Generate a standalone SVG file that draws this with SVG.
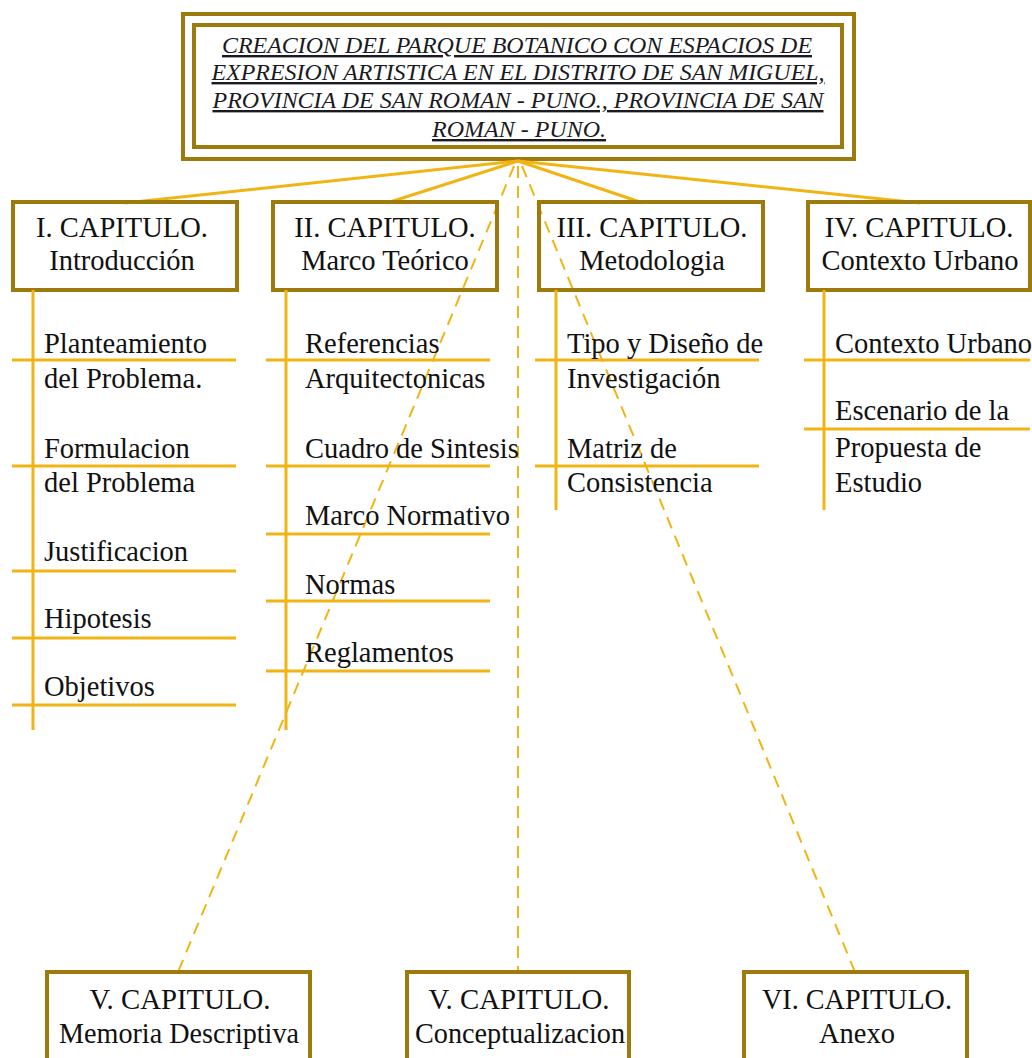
<svg xmlns="http://www.w3.org/2000/svg" width="1032" height="1058" viewBox="0 0 1032 1058">
<style>
.box{fill:none;stroke:#9c7a0c;stroke-width:4}
.tb{fill:none;stroke:#9c7a0c;stroke-width:4}
.t{font-family:"Liberation Serif","Times New Roman",serif;font-size:28.5px;fill:#111}
.c{text-anchor:middle}
.title{font-family:"Liberation Serif","Times New Roman",serif;font-size:24px;font-style:italic;fill:#1a1a22;text-anchor:middle;text-decoration:underline}
.sol{stroke:#f0b414;stroke-width:3;fill:none}
.ln{stroke:#f0b414;stroke-width:3;fill:none}
.dash{stroke:#f0b414;stroke-width:2;fill:none;stroke-dasharray:12 8}
</style>
<rect width="1032" height="1058" fill="#fff"/>
<g id="title">
<rect class="tb" x="183" y="14" width="671" height="145"/>
<rect class="tb" x="194" y="25" width="648" height="122" stroke-width="3.5"/>
<text class="title" x="517" y="53" textLength="590" lengthAdjust="spacingAndGlyphs">CREACION DEL PARQUE BOTANICO CON ESPACIOS DE</text>
<text class="title" x="518" y="80" textLength="613" lengthAdjust="spacingAndGlyphs">EXPRESION ARTISTICA EN EL DISTRITO DE SAN MIGUEL,</text>
<text class="title" x="518" y="108" textLength="611" lengthAdjust="spacingAndGlyphs">PROVINCIA DE SAN ROMAN - PUNO., PROVINCIA DE SAN</text>
<text class="title" x="519" y="137" textLength="174" lengthAdjust="spacingAndGlyphs">ROMAN - PUNO.</text>
</g>
<g id="connectors">
<line class="sol" x1="518" y1="161" x2="125" y2="203"/>
<line class="sol" x1="518" y1="161" x2="387" y2="203"/>
<line class="sol" x1="518" y1="161" x2="643" y2="203"/>
<line class="sol" x1="518" y1="161" x2="920" y2="203"/>
<line class="dash" x1="514" y1="166" x2="178" y2="972"/>
<line class="dash" x1="518" y1="166" x2="518" y2="972"/>
<line class="dash" x1="522" y1="166" x2="855" y2="972"/>
</g>
<g id="cap1">
<rect class="box" x="13" y="202" width="224" height="88"/>
<text class="t c" x="122" y="237">I. CAPITULO.</text>
<text class="t c" x="122" y="270">Introducción</text>
<line class="ln" x1="33" y1="290" x2="33" y2="730"/>
<line class="ln" x1="12" y1="360" x2="236" y2="360"/>
<line class="ln" x1="12" y1="466" x2="236" y2="466"/>
<line class="ln" x1="12" y1="571" x2="236" y2="571"/>
<line class="ln" x1="12" y1="638" x2="236" y2="638"/>
<line class="ln" x1="12" y1="705" x2="236" y2="705"/>
<text class="t" x="44" y="353">Planteamiento</text>
<text class="t" x="44" y="388">del Problema.</text>
<text class="t" x="44" y="458">Formulacion</text>
<text class="t" x="44" y="492">del Problema</text>
<text class="t" x="44" y="561">Justificacion</text>
<text class="t" x="44" y="628">Hipotesis</text>
<text class="t" x="44" y="696">Objetivos</text>
</g>
<g id="cap2">
<rect class="box" x="273" y="202" width="224" height="88"/>
<text class="t c" x="385" y="237">II. CAPITULO.</text>
<text class="t c" x="385" y="270">Marco Teórico</text>
<line class="ln" x1="286" y1="290" x2="286" y2="730"/>
<line class="ln" x1="266" y1="360" x2="490" y2="360"/>
<line class="ln" x1="266" y1="466" x2="490" y2="466"/>
<line class="ln" x1="266" y1="534" x2="490" y2="534"/>
<line class="ln" x1="266" y1="601" x2="490" y2="601"/>
<line class="ln" x1="266" y1="671" x2="490" y2="671"/>
<text class="t" x="305" y="353">Referencias</text>
<text class="t" x="305" y="388">Arquitectonicas</text>
<text class="t" x="305" y="458">Cuadro de Sintesis</text>
<text class="t" x="305" y="525">Marco Normativo</text>
<text class="t" x="305" y="594">Normas</text>
<text class="t" x="305" y="662">Reglamentos</text>
</g>
<g id="cap3">
<rect class="box" x="539" y="202" width="224" height="88"/>
<text class="t c" x="652" y="237">III. CAPITULO.</text>
<text class="t c" x="652" y="270">Metodologia</text>
<line class="ln" x1="556" y1="290" x2="556" y2="510"/>
<line class="ln" x1="535" y1="360" x2="759" y2="360"/>
<line class="ln" x1="535" y1="466" x2="759" y2="466"/>
<text class="t" x="567" y="353">Tipo y Diseño de</text>
<text class="t" x="567" y="388">Investigación</text>
<text class="t" x="567" y="458">Matriz de</text>
<text class="t" x="567" y="492">Consistencia</text>
</g>
<g id="cap4">
<rect class="box" x="808" y="202" width="222" height="88"/>
<text class="t c" x="919" y="237">IV. CAPITULO.</text>
<text class="t c" x="920" y="270">Contexto Urbano</text>
<line class="ln" x1="824" y1="290" x2="824" y2="510"/>
<line class="ln" x1="804" y1="360" x2="1030" y2="360"/>
<line class="ln" x1="804" y1="429" x2="1030" y2="429"/>
<text class="t" x="835" y="353">Contexto Urbano</text>
<text class="t" x="835" y="420">Escenario de la</text>
<text class="t" x="835" y="457">Propuesta de</text>
<text class="t" x="835" y="492">Estudio</text>
</g>
<g id="cap5a">
<rect class="box" x="47" y="972" width="263" height="100"/>
<text class="t c" x="180" y="1009" textLength="181" lengthAdjust="spacingAndGlyphs">V. CAPITULO.</text>
<text class="t c" x="179" y="1043" textLength="240" lengthAdjust="spacingAndGlyphs">Memoria Descriptiva</text>
</g>
<g id="cap5b">
<rect class="box" x="407" y="972" width="222" height="100"/>
<text class="t c" x="519" y="1009" textLength="181" lengthAdjust="spacingAndGlyphs">V. CAPITULO.</text>
<text class="t c" x="520" y="1043" textLength="210" lengthAdjust="spacingAndGlyphs">Conceptualizacion</text>
</g>
<g id="cap6">
<rect class="box" x="744" y="972" width="223" height="100"/>
<text class="t c" x="857" y="1009" textLength="190" lengthAdjust="spacingAndGlyphs">VI. CAPITULO.</text>
<text class="t c" x="857" y="1043" textLength="76" lengthAdjust="spacingAndGlyphs">Anexo</text>
</g>
</svg>
